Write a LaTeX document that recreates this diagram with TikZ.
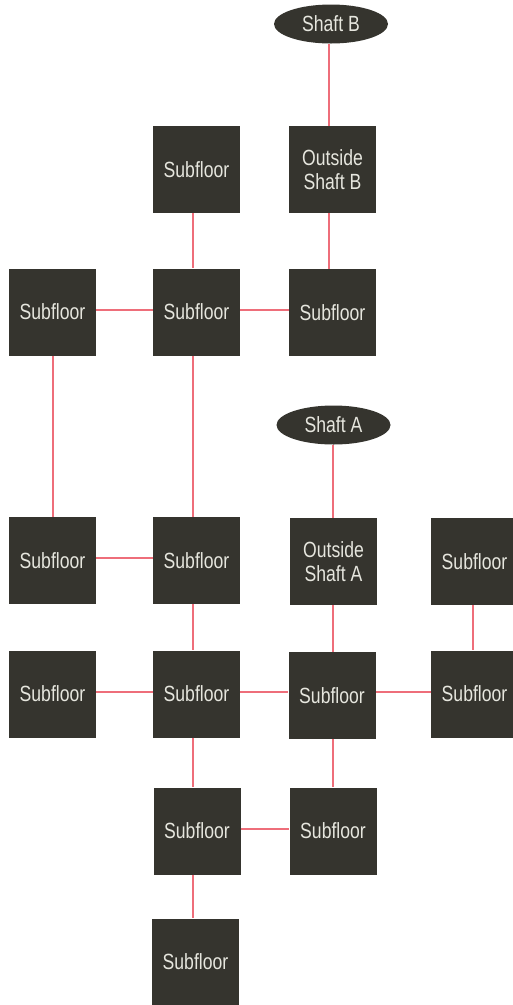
\documentclass[tikz,border=0pt]{standalone}
\usepackage{fontspec}
\setmainfont[FakeStretch=0.8]{Liberation Sans}
\usetikzlibrary{shapes.geometric}
\definecolor{boxfill}{HTML}{35342E}
\definecolor{boxtext}{HTML}{E6E6DE}
\definecolor{linkred}{HTML}{EE6E7A}
\begin{document}
\begin{tikzpicture}[x=1pt,y=-1pt,
  room/.style={rectangle, fill=boxfill, text=boxtext, minimum width=87pt, minimum height=87pt, inner sep=0pt, align=center, font=\fontsize{22}{24.5}\selectfont},
  shaft/.style={ellipse, fill=boxfill, text=boxtext, minimum width=114pt, minimum height=39pt, inner sep=0pt, font=\fontsize{22}{24.5}\selectfont},
  link/.style={draw=linkred, line width=2pt}]
\clip (0,0) rectangle (513,1005);
\useasboundingbox (0,0) rectangle (513,1005);
% nodes
\node[shaft] (shB) at (331,24) {Shaft B};
\node[room] (sfB) at (196.5,169.5) {Subfloor};
\node[room] (osB) at (332.5,169.5) {Outside\\Shaft B};
\node[room] (r2a) at (52.5,312) {Subfloor};
\node[room] (r2b) at (196.5,312) {Subfloor};
\node[room] (r2c) at (332.5,312.5) {Subfloor};
\node[shaft] (shA) at (333.5,425) {Shaft A};
\node[room] (r3a) at (52.5,560.5) {Subfloor};
\node[room] (r3b) at (196.5,560.5) {Subfloor};
\node[room] (osA) at (333.5,561.5) {Outside\\Shaft A};
\node[room] (r3d) at (474.5,561.5) {Subfloor};
\node[room] (r4a) at (52.5,694) {Subfloor};
\node[room] (r4b) at (196.5,694) {Subfloor};
\node[room] (r4c) at (332,695.5) {Subfloor};
\node[room] (r4d) at (474.5,694) {Subfloor};
\node[room] (r5b) at (197,831) {Subfloor};
\node[room] (r5c) at (333,831) {Subfloor};
\node[room] (r6b) at (195.5,962) {Subfloor};
% vertical links
\draw[link] ([xshift=-2pt]shB.south) -- ([xshift=-3.5pt]osB.north);
\draw[link] ([xshift=-3.5pt]osB.south) -- ([xshift=-3.5pt]r2c.north);
\draw[link] ([xshift=-3.5pt]sfB.south) -- ([xshift=-3.5pt]r2b.north);
\draw[link] (r2a.south) -- (r3a.north);
\draw[link] ([xshift=-3.5pt]r2b.south) -- ([xshift=-3.5pt]r3b.north);
\draw[link] ([xshift=-0.5pt]shA.south) -- ([xshift=-0.5pt]osA.north);
\draw[link] ([xshift=-3.5pt]r3b.south) -- ([xshift=-3.5pt]r4b.north);
\draw[link] ([xshift=-0.5pt]osA.south) -- ([xshift=1pt]r4c.north);
\draw[link] ([xshift=-1.5pt]r3d.south) -- ([xshift=-1.5pt]r4d.north);
\draw[link] ([xshift=-3.5pt]r4b.south) -- ([xshift=-4pt]r5b.north);
\draw[link] ([xshift=1pt]r4c.south) -- (r5c.north);
\draw[link] ([xshift=-4pt]r5b.south) -- ([xshift=-2.5pt]r6b.north);
% horizontal links
\draw[link] ([yshift=2pt]r2a.east) -- ([yshift=2pt]r2a.east -| r2b.west);
\draw[link] ([yshift=2pt]r2b.east) -- ([yshift=2pt]r2b.east -| r2c.west);
\draw[link] ([yshift=2.5pt]r3a.east) -- ([yshift=2.5pt]r3a.east -| r3b.west);
\draw[link] ([yshift=2pt]r4a.east) -- ([yshift=2pt]r4a.east -| r4b.west);
\draw[link] ([yshift=2pt]r4b.east) -- ([yshift=2pt]r4b.east -| r4c.west);
\draw[link] ([yshift=2pt]r4d.west) -- ([yshift=2pt]r4d.west -| r4c.east);
\draw[link] ([yshift=2pt]r5b.east) -- ([yshift=2pt]r5b.east -| r5c.west);
\end{tikzpicture}
\end{document}
